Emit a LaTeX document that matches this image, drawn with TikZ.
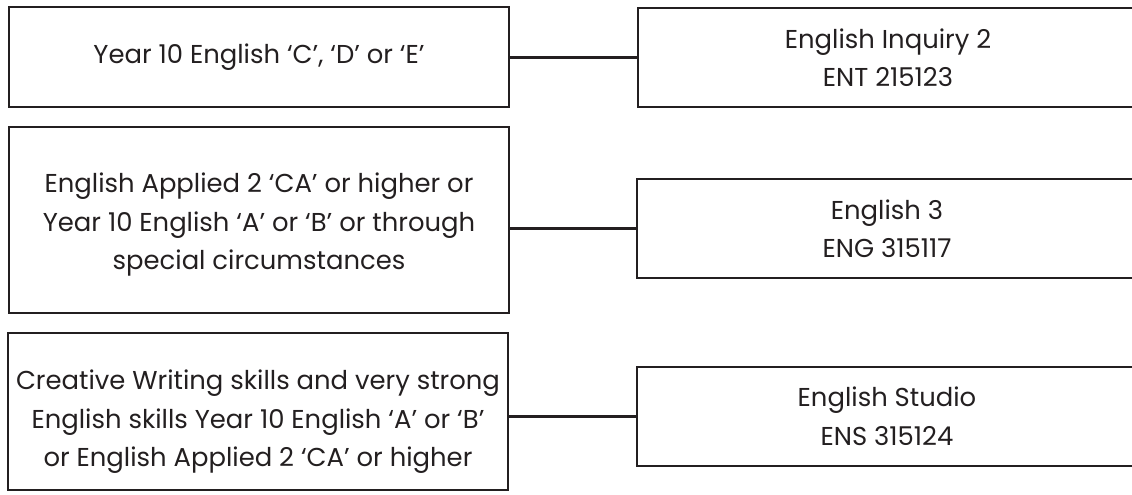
\documentclass[tikz,border=0pt]{standalone}
\usepackage{fontspec}
\usepackage{tikz}
\usepackage{xcolor}
\setmainfont{Poppins}
\definecolor{ink}{HTML}{231F20}

\begin{document}
\begin{tikzpicture}[x=0.75pt, y=-0.75pt,
	reqbox/.style={draw=ink, line width=1.8pt, text=ink, align=center, minimum width=375pt,
		font=\fontsize{19.4}{28.9}\selectfont, inner sep=0pt},
	crsbox/.style={reqbox, minimum height=74.3pt},
	link/.style={draw=ink, line width=1.6pt}]
	\useasboundingbox (0,0) rectangle (1132,494);
	\clip (0,0) rectangle (1132,494);
	% entry requirements
	\node[reqbox, minimum height=75pt] (req1) at (259,57) {Year 10 English ‘C’, ‘D’ or ‘E’};
	\node[reqbox, minimum height=139.5pt, text height=80pt] (req2) at (259,220) {English Applied 2 ‘CA’ or higher or\\Year 10 English ‘A’ or ‘B’ or through\\special circumstances};
	\node[reqbox, minimum height=117.8pt, text height=88pt] (req3) at (258,411.5) {Creative Writing skills and very strong\\English skills Year 10 English ‘A’ or ‘B’\\or English Applied 2 ‘CA’ or higher};
	% courses
	\node[crsbox] (crs1) at (888,57.5) {English Inquiry 2\\ENT 215123};
	\node[crsbox] (crs2) at (887,228.5) {English 3\\ENG 315117};
	\node[crsbox] (crs3) at (887,416.5) {English Studio\\ENS 315124};
	% links
	\draw[link] (req1.east |- crs1.west) -- (crs1.west);
	\draw[link] (req2.east |- crs2.west) -- (crs2.west);
	\draw[link] (req3.east |- crs3.west) -- (crs3.west);
\end{tikzpicture}
\end{document}
